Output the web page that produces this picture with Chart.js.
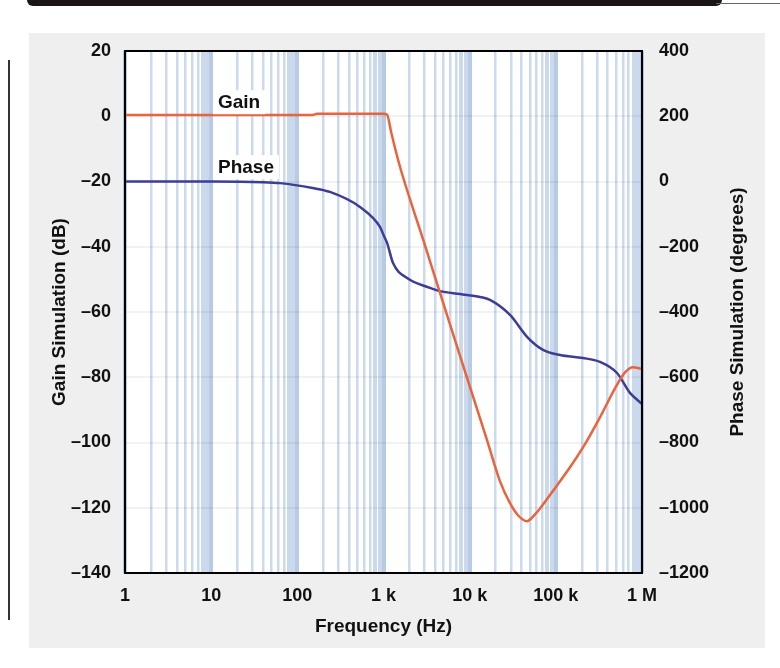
<!DOCTYPE html>
<html>
<head>
<meta charset="utf-8">
<title>Gain / Phase Simulation</title>
<script src="https://cdn.jsdelivr.net/npm/chart.js@4.4.0/dist/chart.umd.min.js"></script>
<style>
  html, body { margin: 0; padding: 0; background: #fff; }
  #wrap { position: relative; width: 780px; height: 668px; overflow: hidden; }
  #topbar { position: absolute; left: 27px; top: 0; width: 695px; height: 6px; background: #1c1414; border-radius: 0 0 14px 14px; }
  #topline { position: absolute; left: 716px; top: 3px; width: 64px; height: 1px; background: #666; }
  #panel { position: absolute; left: 29px; top: 33px; width: 736px; height: 615px; background: #efefef; }
  #leftline { position: absolute; left: 8px; top: 60px; width: 2px; height: 560px; background: #333; }
  canvas { position: absolute; left: 0; top: 0; }
</style>
</head>
<body>
<div id="wrap">
  <div id="topbar"></div>
  <div id="topline"></div>
  <div id="panel"></div>
  <div id="leftline"></div>
  <canvas id="chart-bode" width="780" height="668"></canvas>
</div>
<script>
// ===== DADOS =====
const decades = [1, 10, 100, 1e3, 1e4, 1e5, 1e6];
const decadeLabels = ['1', '10', '100', '1 k', '10 k', '100 k', '1 M'];
const minorSteps = [2, 3, 4, 5, 6, 7, 8, 9];

// Gain (dB)
const gainFreq = [1, 150, 170, 1000, 1100, 1230, 1513, 2950, 5910, 9570, 15900, 22500, 29400, 36400, 46300, 57300, 65500, 97700, 146000, 218000, 325000, 486000, 635000, 786000, 1000000];
const gainDb   = [0.4, 0.4, 0.8, 0.8, 0.5, -5, -14.4, -38.6, -63.8, -81.1, -99.3, -111.9, -118.6, -122.3, -124.1, -122, -120.2, -114, -107.6, -100.5, -92.3, -83.4, -78.5, -76.9, -77.5];

// Phase (degrees)
const phaseFreq = [1, 10, 40, 63, 150, 239, 533, 910, 1000, 1100, 1290, 1880, 3460, 4520, 7720, 13200, 17200, 29400, 46300, 71000, 112000, 206000, 325000, 513000, 725000, 1000000];
const phaseDeg  = [0, 0, -2, -5, -20, -32, -78, -139, -164, -188, -250, -296, -326, -336, -345, -354, -363, -409, -476, -516, -532, -541, -553, -587, -648, -682];

// Eixos
const gainMin = -140, gainMax = 20, gainStep = 20;
const phaseMin = -1200, phaseMax = 400, phaseStep = 200;

// Rótulos das curvas (em coordenadas de dados)
const gainLabel = { text: 'Gain', freq: 12, value: 4.3 };
const phaseLabel = { text: 'Phase', freq: 12, value: 44 };

const corGain = '#e8643c';
const corPhase = '#3d3d95';
const fonte = "'Liberation Sans', Arial, sans-serif";

// ticks do eixo de frequência
const freqTicks = [];
decades.forEach((d, i) => {
  freqTicks.push(d);
  if (i < decades.length - 1) minorSteps.forEach(m => freqTicks.push(d * m));
});

function mantissa(v) {
  const p = Math.pow(10, Math.floor(Math.log10(v) + 1e-9));
  return Math.round(v / p);
}
function menos(v) { return String(v).replace('-', '\u2013'); }

// ===== PLUGIN: fundo, borda, rótulos =====
const moldura = {
  id: 'moldura',
  beforeDraw(chart) {
    const { ctx, chartArea: a } = chart;
    ctx.save();
    ctx.fillStyle = '#ffffff';
    ctx.fillRect(a.left, a.top, a.right - a.left, a.bottom - a.top);
    ctx.restore();
  },
  afterDatasetsDraw(chart) {
    const { ctx, scales } = chart;
    ctx.save();
    ctx.font = 'bold 19px ' + fonte;
    ctx.textBaseline = 'middle';
    ctx.textAlign = 'left';
    [[gainLabel, scales.y], [phaseLabel, scales.y2]].forEach(([lb, sc]) => {
      const x = scales.x.getPixelForValue(lb.freq);
      const y = sc.getPixelForValue(lb.value);
      const w = ctx.measureText(lb.text).width;
      ctx.fillStyle = '#ffffff';
      ctx.fillRect(x - 5, y - 12, w + 10, 24);
      ctx.fillStyle = '#111';
      ctx.fillText(lb.text, x, y + 1);
    });
    ctx.restore();
  },
  afterDraw(chart) {
    const { ctx, chartArea: a } = chart;
    ctx.save();
    ctx.strokeStyle = '#000';
    ctx.lineWidth = 2;
    ctx.strokeRect(a.left, a.top, a.right - a.left, a.bottom - a.top);
    // título do eixo direito (lido de baixo para cima)
    ctx.translate(738, (a.top + a.bottom) / 2);
    ctx.rotate(-Math.PI / 2);
    ctx.font = 'bold 19px ' + fonte;
    ctx.fillStyle = '#111';
    ctx.textAlign = 'center';
    ctx.textBaseline = 'middle';
    ctx.fillText('Phase Simulation (degrees)', 0, 0);
    ctx.restore();
  }
};

// ===== GRÁFICO =====
const chartBode = new Chart(document.getElementById('chart-bode'), {
  type: 'line',
  data: {
    datasets: [
      {
        label: 'Gain',
        data: gainFreq.map((f, i) => ({ x: f, y: gainDb[i] })),
        borderColor: corGain,
        borderWidth: 2.5,
        pointRadius: 0,
        cubicInterpolationMode: 'monotone',
        yAxisID: 'y'
      },
      {
        label: 'Phase',
        data: phaseFreq.map((f, i) => ({ x: f, y: phaseDeg[i] })),
        borderColor: corPhase,
        borderWidth: 2.5,
        pointRadius: 0,
        cubicInterpolationMode: 'monotone',
        yAxisID: 'y2'
      }
    ]
  },
  options: {
    responsive: false,
    devicePixelRatio: 1,
    animation: false,
    layout: { padding: { top: 51, left: 0, right: 0, bottom: 0 } },
    plugins: { legend: { display: false }, tooltip: { enabled: false } },
    scales: {
      x: {
        type: 'logarithmic',
        min: 1, max: 1e6,
        afterBuildTicks: s => { s.ticks = freqTicks.map(v => ({ value: v })); },
        afterFit: s => { s.height = 95; },
        ticks: {
          autoSkip: false, maxRotation: 0, padding: 12,
          color: '#111', font: { family: fonte, size: 18, weight: 'bold' },
          callback: v => { const i = decades.indexOf(v); return i >= 0 ? decadeLabels[i] : ''; }
        },
        grid: {
          drawTicks: false,
          color: c => {
            const m = mantissa(c.tick.value);
            if (m === 1) return 'rgba(125,160,205,0.55)';
            if (m >= 8) return 'rgba(145,175,213,0.48)';
            return 'rgba(160,187,222,0.55)';
          },
          lineWidth: c => { const m = mantissa(c.tick.value); return (m === 1 || m >= 8) ? 4 : 2.5; }
        },
        border: { display: false },
        title: { display: true, text: 'Frequency (Hz)', color: '#111', font: { family: fonte, size: 19, weight: 'bold' }, padding: { top: 0, bottom: 30 } }
      },
      y: {
        position: 'left',
        min: gainMin, max: gainMax,
        afterFit: s => { s.width = 125; },
        ticks: { stepSize: gainStep, padding: 14, color: '#111', font: { family: fonte, size: 18, weight: 'bold' }, callback: v => menos(v) },
        grid: { drawTicks: false, color: 'rgba(0,0,0,0.05)', lineWidth: 2 },
        border: { display: false },
        title: { display: true, text: 'Gain Simulation (dB)', color: '#111', font: { family: fonte, size: 19, weight: 'bold' }, padding: { top: 48, bottom: 0 } }
      },
      y2: {
        position: 'right',
        min: phaseMin, max: phaseMax,
        afterFit: s => { s.width = 138; },
        ticks: { stepSize: phaseStep, padding: 17, color: '#111', font: { family: fonte, size: 18, weight: 'bold' }, callback: v => menos(v) },
        grid: { drawOnChartArea: false, drawTicks: false },
        border: { display: false }
      }
    }
  },
  plugins: [moldura]
});
</script>
</body>
</html>
